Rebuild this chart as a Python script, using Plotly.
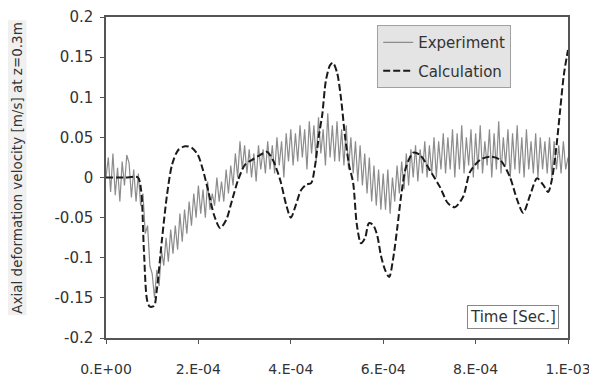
import plotly.graph_objects as go

# ---------------- data ----------------
exp_dt = 5e-6
exp_v = [
    0.000, 0.025, -0.018, 0.030, -0.022, 0.012, -0.030, 0.020, -0.010, 0.028,
    0.018, -0.025, 0.010, -0.030, 0.005, -0.035, -0.020, -0.070, -0.060, -0.110,
    -0.120, -0.150, -0.115, -0.135, -0.090, -0.110, -0.075, -0.105, -0.065, -0.095,
    -0.060, -0.090, -0.045, -0.080, -0.040, -0.070, -0.030, -0.060, -0.020, -0.050,
    -0.010, -0.045, -0.015, -0.050, -0.005, -0.040, -0.020, -0.035, 0.000, -0.030,
    -0.005, -0.030, 0.010, -0.020, 0.015, -0.010, 0.030, 0.000, 0.045, 0.010,
    0.040, 0.005, 0.035, 0.000, 0.030, -0.005, 0.040, 0.010, 0.035, 0.005,
    0.045, 0.010, 0.040, 0.005, 0.050, 0.015, 0.045, 0.000, 0.055, 0.020,
    0.060, 0.015, 0.055, 0.020, 0.065, 0.025, 0.060, 0.010, 0.070, 0.030,
    0.065, 0.020, 0.075, 0.030, 0.060, 0.015, 0.080, 0.025, 0.065, 0.020,
    0.070, 0.020, 0.060, 0.015, 0.065, 0.010, 0.050, 0.005, 0.045, -0.005,
    0.040, -0.010, 0.030, -0.020, 0.025, -0.030, 0.015, -0.035, 0.010, -0.040,
    0.005, -0.040, 0.010, -0.045, 0.000, -0.030, 0.015, -0.020, 0.020, -0.015,
    0.030, -0.010, 0.035, 0.000, 0.040, -0.005, 0.035, 0.005, 0.045, 0.000,
    0.040, 0.005, 0.050, 0.000, 0.045, 0.010, 0.055, 0.005, 0.050, 0.010,
    0.060, 0.000, 0.055, 0.010, 0.065, 0.005, 0.050, 0.015, 0.060, 0.000,
    0.055, 0.010, 0.065, 0.005, 0.045, 0.015, 0.060, 0.000, 0.055, 0.010,
    0.070, 0.005, 0.050, 0.015, 0.060, 0.000, 0.055, 0.010, 0.065, 0.005,
    0.050, 0.000, 0.060, 0.010, 0.045, 0.005, 0.055, 0.000, 0.050, 0.010,
    0.045, 0.005, 0.050, 0.000, 0.045, 0.010, 0.040, 0.005, 0.045, 0.010,
    0.025,
]
exp_t = [i * exp_dt for i in range(len(exp_v))]

calc_t_e4 = [0.00, 0.41, 0.69, 0.76, 0.82, 0.89, 0.95, 1.04, 1.10, 1.21,
             1.32, 1.43, 1.56, 1.71, 1.86, 1.99, 2.10, 2.21, 2.34, 2.47,
             2.60, 2.73, 2.86, 3.01, 3.16, 3.33, 3.48, 3.61, 3.77, 3.90,
             4.00, 4.11, 4.22, 4.33, 4.44, 4.52, 4.61, 4.68, 4.76, 4.85,
             4.91, 5.00, 5.09, 5.17, 5.26, 5.35, 5.43, 5.52, 5.61, 5.69,
             5.78, 5.87, 5.95, 6.04, 6.13, 6.21, 6.30, 6.39, 6.49, 6.65,
             6.80, 7.01, 7.23, 7.40, 7.55, 7.73, 7.88, 8.10, 8.31, 8.53,
             8.74, 8.90, 9.03, 9.18, 9.33, 9.46, 9.57, 9.65, 9.74, 9.83,
             9.91, 10.00]
calc_v = [0.000, 0.000, 0.000, -0.016, -0.090, -0.153, -0.161, -0.160, -0.140, -0.078,
          -0.022, 0.016, 0.034, 0.039, 0.037, 0.028, 0.009, -0.016, -0.047, -0.063,
          -0.053, -0.028, -0.003, 0.016, 0.022, 0.028, 0.032, 0.022, -0.003, -0.034,
          -0.050, -0.034, -0.016, -0.009, -0.007, 0.013, 0.053, 0.078, 0.121, 0.140,
          0.143, 0.131, 0.097, 0.053, 0.016, -0.007, -0.059, -0.082, -0.075, -0.057,
          -0.059, -0.072, -0.097, -0.115, -0.124, -0.103, -0.065, -0.022, 0.012, 0.031,
          0.028, 0.009, -0.012, -0.032, -0.037, -0.024, 0.007, 0.022, 0.026, 0.022,
          0.001, -0.028, -0.044, -0.022, -0.001, -0.009, -0.018, -0.003, 0.034, 0.084,
          0.128, 0.159]
calc_t = [t * 1e-4 for t in calc_t_e4]

x_tickvals = [0, 2e-4, 4e-4, 6e-4, 8e-4, 1e-3]
x_ticktext = ["0.E+00", "2.E-04", "4.E-04", "6.E-04", "8.E-04", "1.E-03"]
y_tickvals = [-0.2, -0.15, -0.1, -0.05, 0, 0.05, 0.1, 0.15, 0.2]
y_ticktext = ["-0.2", "-0.15", "-0.1", "-0.05", "0", "0.05", "0.1", "0.15", "0.2"]

FONT = "DejaVu Sans"

fig = go.Figure()
fig.add_trace(go.Scatter(
    x=exp_t, y=exp_v, mode="lines", name="Experiment",
    line=dict(color="#8c8c8c", width=1.2), legendgroup="a",
))
fig.add_trace(go.Scatter(
    x=calc_t, y=calc_v, mode="lines", name="Calculation",
    line=dict(color="#1a1a1a", width=2, dash="7px,3px", shape="spline", smoothing=0.8),
    legendgroup="b",
))

axis_common = dict(
    showgrid=False, zeroline=False, showline=True, linecolor="#555555",
    linewidth=1.5, mirror=True, ticks="outside", ticklen=4, tickcolor="#555555",
    automargin=False,
)
fig.update_xaxes(range=[0, 1e-3], tickvals=x_tickvals, ticktext=x_ticktext,
                 ticklabelstandoff=13,
                 tickfont=dict(family=FONT, size=14, color="#333333"), **axis_common)
fig.update_yaxes(range=[-0.2, 0.2], tickvals=y_tickvals, ticktext=y_ticktext,
                 ticklabelstandoff=4,
                 tickfont=dict(family=FONT, size=15, color="#333333"), **axis_common)

fig.update_layout(
    width=589, height=375,
    margin=dict(l=98, r=29, t=9, b=45),
    paper_bgcolor="white", plot_bgcolor="white",
    showlegend=True,
    legend=dict(
        x=0.587, y=0.975, xanchor="left", yanchor="top",
        bgcolor="#e4e4e4", bordercolor="#a0a0a0", borderwidth=1,
        font=dict(family=FONT, size=15, color="#333333"),
        traceorder="grouped", tracegroupgap=6,
    ),
    annotations=[
        dict(text="Axial deformation velocity [m/s] at z=0.3m", textangle=-90,
             xref="paper", yref="paper", x=-0.193, y=0.53,
             xanchor="center", yanchor="middle", showarrow=False,
             font=dict(family=FONT, size=13.5, color="#333333"),
             bgcolor="#f0f0f0"),
        dict(text="Time [Sec.]", xref="paper", yref="paper",
             x=0.88, y=0.065, xanchor="center", yanchor="middle", showarrow=False,
             font=dict(family=FONT, size=15, color="#333333"),
             bordercolor="#888888", borderwidth=1, borderpad=2, bgcolor="white"),
    ],
)

fig.write_html("out.html")
